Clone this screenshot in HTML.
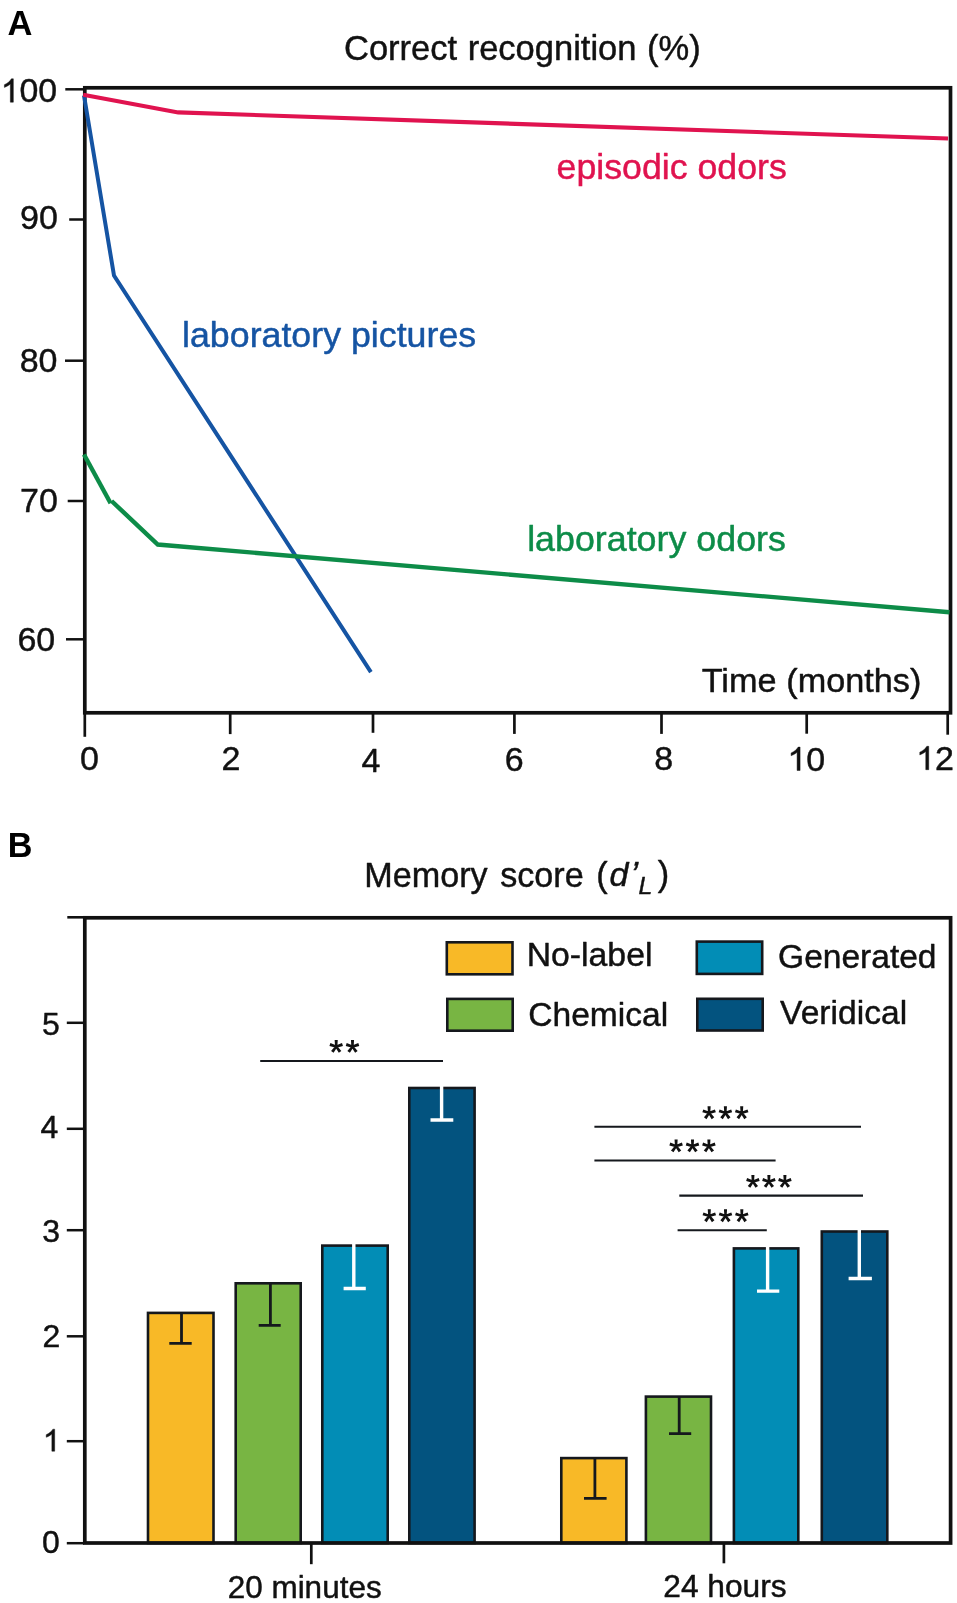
<!DOCTYPE html>
<html><head><meta charset="utf-8"><title>Figure</title>
<style>html,body{margin:0;padding:0;background:#fff}svg{display:block}text{font-family:"Liberation Sans",sans-serif}</style></head>
<body>
<div style="width:957px;height:1603px;will-change:transform">
<svg width="957" height="1603" viewBox="0 0 957 1603">
<rect x="0" y="0" width="957" height="1603" fill="#ffffff"/>
<!-- Panel A -->
<rect x="84.8" y="87.8" width="865.7" height="625.0" fill="none" stroke="#111111" stroke-width="3.7"/>
<polyline points="84.0,95.5 114,275.5 370.9,672.2" fill="none" stroke="#1554a3" stroke-width="4.0" stroke-linejoin="miter"/>
<polyline points="83.2,94.7 178.2,112.4 948.0,138.5" fill="none" stroke="#e0134f" stroke-width="4.1" stroke-linejoin="miter"/>
<polyline points="84.0,454.5 110.6,503.3" fill="none" stroke="#0d8c48" stroke-width="4.4"/>
<polyline points="111.6,501 157.8,544.5 949.5,612.2" fill="none" stroke="#0d8c48" stroke-width="4.4" stroke-linejoin="miter"/>
<line x1="65.3" y1="89.3" x2="84" y2="89.3" stroke="#111111" stroke-width="2.5"/>
<line x1="69.2" y1="219.5" x2="84" y2="219.5" stroke="#111111" stroke-width="2.5"/>
<line x1="65.0" y1="360.7" x2="84" y2="360.7" stroke="#111111" stroke-width="2.5"/>
<line x1="67.7" y1="501.0" x2="84" y2="501.0" stroke="#111111" stroke-width="2.5"/>
<line x1="66.0" y1="639.3" x2="84" y2="639.3" stroke="#111111" stroke-width="2.5"/>
<line x1="84.8" y1="713" x2="84.8" y2="736.8" stroke="#111111" stroke-width="2.7"/>
<line x1="230.2" y1="713" x2="230.2" y2="734.1" stroke="#111111" stroke-width="2.7"/>
<line x1="373.0" y1="713" x2="373.0" y2="732.8" stroke="#111111" stroke-width="2.7"/>
<line x1="514.4" y1="713" x2="514.4" y2="733.9" stroke="#111111" stroke-width="2.7"/>
<line x1="661.5" y1="713" x2="661.5" y2="733.9" stroke="#111111" stroke-width="2.7"/>
<line x1="806.7" y1="713" x2="806.7" y2="733.7" stroke="#111111" stroke-width="2.7"/>
<line x1="947.7" y1="713" x2="947.7" y2="734.7" stroke="#111111" stroke-width="2.7"/>
<!-- Panel B -->
<rect x="148.00" y="1312.90" width="65.50" height="230.10" fill="#f8b927" stroke="#15181d" stroke-width="2.6"/>
<rect x="235.70" y="1283.30" width="65.00" height="259.70" fill="#78b543" stroke="#15181d" stroke-width="2.6"/>
<rect x="322.30" y="1245.60" width="65.40" height="297.40" fill="#028db6" stroke="#15181d" stroke-width="2.6"/>
<rect x="409.30" y="1088.00" width="65.30" height="455.00" fill="#03537f" stroke="#15181d" stroke-width="2.6"/>
<rect x="561.30" y="1458.10" width="65.10" height="84.90" fill="#f8b927" stroke="#15181d" stroke-width="2.6"/>
<rect x="645.90" y="1396.60" width="65.10" height="146.40" fill="#78b543" stroke="#15181d" stroke-width="2.6"/>
<rect x="733.90" y="1248.40" width="64.40" height="294.60" fill="#028db6" stroke="#15181d" stroke-width="2.6"/>
<rect x="821.80" y="1231.50" width="65.50" height="311.50" fill="#03537f" stroke="#15181d" stroke-width="2.6"/>
<path d="M181.5 1312.5 V1343.3 M169.3 1343.3 H191.7" fill="none" stroke="#15181d" stroke-width="2.8"/>
<path d="M270.4 1283.0 V1325.3 M258.7 1325.3 H280.7" fill="none" stroke="#15181d" stroke-width="2.8"/>
<path d="M353.8 1243.7 V1288.5 M343.6 1288.5 H365.8" fill="none" stroke="#fff" stroke-width="3.4"/>
<path d="M441.6 1086.1000000000001 V1120.0 M430.5 1120.0 H453.3" fill="none" stroke="#fff" stroke-width="3.4"/>
<path d="M594.9 1457.8 V1498.4 M584.0 1498.4 H606.6" fill="none" stroke="#15181d" stroke-width="2.8"/>
<path d="M679.2 1396.3 V1433.6 M669.0 1433.6 H691.2" fill="none" stroke="#15181d" stroke-width="2.8"/>
<path d="M767.6 1246.5 V1291.1 M757.0 1291.1 H779.3" fill="none" stroke="#fff" stroke-width="3.4"/>
<path d="M859.3 1229.7 V1278.5 M848.6 1278.5 H871.9" fill="none" stroke="#fff" stroke-width="3.4"/>
<rect x="84.8" y="917.8" width="865.8" height="625.2" fill="none" stroke="#111111" stroke-width="3.7"/>
<line x1="67.3" y1="917.3" x2="84" y2="917.3" stroke="#111111" stroke-width="2.6"/>
<line x1="66.8" y1="1022.8" x2="84" y2="1022.8" stroke="#111111" stroke-width="2.5"/>
<line x1="66.8" y1="1128.8" x2="84" y2="1128.8" stroke="#111111" stroke-width="2.5"/>
<line x1="66.8" y1="1230.2" x2="84" y2="1230.2" stroke="#111111" stroke-width="2.5"/>
<line x1="66.8" y1="1336.3" x2="84" y2="1336.3" stroke="#111111" stroke-width="2.5"/>
<line x1="66.8" y1="1441.2" x2="84" y2="1441.2" stroke="#111111" stroke-width="2.5"/>
<line x1="66.8" y1="1543.2" x2="84" y2="1543.2" stroke="#111111" stroke-width="2.5"/>
<line x1="311.3" y1="1544" x2="311.3" y2="1564.2" stroke="#111111" stroke-width="2.7"/>
<line x1="723.9" y1="1544" x2="723.9" y2="1563.3" stroke="#111111" stroke-width="2.7"/>
<line x1="260.2" y1="1061.0" x2="443.0" y2="1061.0" stroke="#15181d" stroke-width="2.1"/>
<line x1="594.4" y1="1126.7" x2="861.0" y2="1126.7" stroke="#15181d" stroke-width="2.1"/>
<line x1="594.4" y1="1160.5" x2="775.6" y2="1160.5" stroke="#15181d" stroke-width="2.1"/>
<line x1="679.3" y1="1195.6" x2="863.0" y2="1195.6" stroke="#15181d" stroke-width="2.1"/>
<line x1="677.6" y1="1230.3" x2="766.8" y2="1230.3" stroke="#15181d" stroke-width="2.1"/>
<path d="M337.35 1046.60 L337.75 1040.00 L334.65 1040.00 L335.05 1046.60Z M336.56 1047.69 L342.96 1046.03 L342.00 1043.09 L335.84 1045.51Z M335.27 1047.28 L338.83 1052.85 L341.33 1051.03 L337.13 1045.92Z M335.27 1045.92 L331.07 1051.03 L333.57 1052.85 L337.13 1047.28Z M336.56 1045.51 L330.40 1043.09 L329.44 1046.03 L335.84 1047.69Z M353.65 1046.60 L354.05 1040.00 L350.95 1040.00 L351.35 1046.60Z M352.86 1047.69 L359.26 1046.03 L358.30 1043.09 L352.14 1045.51Z M351.57 1047.28 L355.13 1052.85 L357.63 1051.03 L353.43 1045.92Z M351.57 1045.92 L347.37 1051.03 L349.87 1052.85 L353.43 1047.28Z M352.86 1045.51 L346.70 1043.09 L345.74 1046.03 L352.14 1047.69Z M710.25 1112.90 L710.65 1106.30 L707.55 1106.30 L707.95 1112.90Z M709.46 1113.99 L715.86 1112.33 L714.90 1109.39 L708.74 1111.81Z M708.17 1113.58 L711.73 1119.15 L714.23 1117.33 L710.03 1112.22Z M708.17 1112.22 L703.97 1117.33 L706.47 1119.15 L710.03 1113.58Z M709.46 1111.81 L703.30 1109.39 L702.34 1112.33 L708.74 1113.99Z M726.55 1112.90 L726.95 1106.30 L723.85 1106.30 L724.25 1112.90Z M725.76 1113.99 L732.16 1112.33 L731.20 1109.39 L725.04 1111.81Z M724.47 1113.58 L728.03 1119.15 L730.53 1117.33 L726.33 1112.22Z M724.47 1112.22 L720.27 1117.33 L722.77 1119.15 L726.33 1113.58Z M725.76 1111.81 L719.60 1109.39 L718.64 1112.33 L725.04 1113.99Z M742.85 1112.90 L743.25 1106.30 L740.15 1106.30 L740.55 1112.90Z M742.06 1113.99 L748.46 1112.33 L747.50 1109.39 L741.34 1111.81Z M740.77 1113.58 L744.33 1119.15 L746.83 1117.33 L742.63 1112.22Z M740.77 1112.22 L736.57 1117.33 L739.07 1119.15 L742.63 1113.58Z M742.06 1111.81 L735.90 1109.39 L734.94 1112.33 L741.34 1113.99Z M677.25 1146.10 L677.65 1139.50 L674.55 1139.50 L674.95 1146.10Z M676.46 1147.19 L682.86 1145.53 L681.90 1142.59 L675.74 1145.01Z M675.17 1146.78 L678.73 1152.35 L681.23 1150.53 L677.03 1145.42Z M675.17 1145.42 L670.97 1150.53 L673.47 1152.35 L677.03 1146.78Z M676.46 1145.01 L670.30 1142.59 L669.34 1145.53 L675.74 1147.19Z M693.65 1146.10 L694.05 1139.50 L690.95 1139.50 L691.35 1146.10Z M692.86 1147.19 L699.26 1145.53 L698.30 1142.59 L692.14 1145.01Z M691.57 1146.78 L695.13 1152.35 L697.63 1150.53 L693.43 1145.42Z M691.57 1145.42 L687.37 1150.53 L689.87 1152.35 L693.43 1146.78Z M692.86 1145.01 L686.70 1142.59 L685.74 1145.53 L692.14 1147.19Z M710.05 1146.10 L710.45 1139.50 L707.35 1139.50 L707.75 1146.10Z M709.26 1147.19 L715.66 1145.53 L714.70 1142.59 L708.54 1145.01Z M707.97 1146.78 L711.53 1152.35 L714.03 1150.53 L709.83 1145.42Z M707.97 1145.42 L703.77 1150.53 L706.27 1152.35 L709.83 1146.78Z M709.26 1145.01 L703.10 1142.59 L702.14 1145.53 L708.54 1147.19Z M754.05 1181.60 L754.45 1175.00 L751.35 1175.00 L751.75 1181.60Z M753.26 1182.69 L759.66 1181.03 L758.70 1178.09 L752.54 1180.51Z M751.97 1182.28 L755.53 1187.85 L758.03 1186.03 L753.83 1180.92Z M751.97 1180.92 L747.77 1186.03 L750.27 1187.85 L753.83 1182.28Z M753.26 1180.51 L747.10 1178.09 L746.14 1181.03 L752.54 1182.69Z M770.05 1181.60 L770.45 1175.00 L767.35 1175.00 L767.75 1181.60Z M769.26 1182.69 L775.66 1181.03 L774.70 1178.09 L768.54 1180.51Z M767.97 1182.28 L771.53 1187.85 L774.03 1186.03 L769.83 1180.92Z M767.97 1180.92 L763.77 1186.03 L766.27 1187.85 L769.83 1182.28Z M769.26 1180.51 L763.10 1178.09 L762.14 1181.03 L768.54 1182.69Z M786.05 1181.60 L786.45 1175.00 L783.35 1175.00 L783.75 1181.60Z M785.26 1182.69 L791.66 1181.03 L790.70 1178.09 L784.54 1180.51Z M783.97 1182.28 L787.53 1187.85 L790.03 1186.03 L785.83 1180.92Z M783.97 1180.92 L779.77 1186.03 L782.27 1187.85 L785.83 1182.28Z M785.26 1180.51 L779.10 1178.09 L778.14 1181.03 L784.54 1182.69Z M710.45 1215.90 L710.85 1209.30 L707.75 1209.30 L708.15 1215.90Z M709.66 1216.99 L716.06 1215.33 L715.10 1212.39 L708.94 1214.81Z M708.37 1216.58 L711.93 1222.15 L714.43 1220.33 L710.23 1215.22Z M708.37 1215.22 L704.17 1220.33 L706.67 1222.15 L710.23 1216.58Z M709.66 1214.81 L703.50 1212.39 L702.54 1215.33 L708.94 1216.99Z M726.65 1215.90 L727.05 1209.30 L723.95 1209.30 L724.35 1215.90Z M725.86 1216.99 L732.26 1215.33 L731.30 1212.39 L725.14 1214.81Z M724.57 1216.58 L728.13 1222.15 L730.63 1220.33 L726.43 1215.22Z M724.57 1215.22 L720.37 1220.33 L722.87 1222.15 L726.43 1216.58Z M725.86 1214.81 L719.70 1212.39 L718.74 1215.33 L725.14 1216.99Z M742.95 1215.90 L743.35 1209.30 L740.25 1209.30 L740.65 1215.90Z M742.16 1216.99 L748.56 1215.33 L747.60 1212.39 L741.44 1214.81Z M740.87 1216.58 L744.43 1222.15 L746.93 1220.33 L742.73 1215.22Z M740.87 1215.22 L736.67 1220.33 L739.17 1222.15 L742.73 1216.58Z M742.16 1214.81 L736.00 1212.39 L735.04 1215.33 L741.44 1216.99Z" fill="#111111"/>
<rect x="446.80" y="942.30" width="65.70" height="32.00" fill="#f8b927" stroke="#15181d" stroke-width="2.6"/>
<rect x="447.30" y="998.90" width="65.40" height="31.80" fill="#78b543" stroke="#15181d" stroke-width="2.6"/>
<rect x="696.80" y="941.60" width="65.40" height="32.30" fill="#028db6" stroke="#15181d" stroke-width="2.6"/>
<rect x="697.30" y="998.80" width="65.40" height="31.70" fill="#03537f" stroke="#15181d" stroke-width="2.6"/>
<!-- Text -->
<g style="filter:opacity(1)">
<g transform="translate(7.40 34.70)"><text x="0" y="0" font-size="34.5" fill="#000" font-weight="bold">A</text></g>
<g transform="translate(344.00 59.50) scale(1.0001 1.0000)"><text x="0" y="0" font-size="34.5" fill="#111111" stroke="#111111" stroke-width="0.45" stroke-linejoin="round" word-spacing="1.0">Correct recognition (%)</text></g>
<g transform="translate(556.60 179.20) scale(1.0378 1.0000)"><text x="0" y="0" font-size="34.4" fill="#e0134f" stroke="#e0134f" stroke-width="0.45" stroke-linejoin="round">episodic odors</text></g>
<g transform="translate(182.03 346.80) scale(1.0369 1.0000)"><text x="0" y="0" font-size="34.5" fill="#1554a3" stroke="#1554a3" stroke-width="0.45" stroke-linejoin="round">laboratory pictures</text></g>
<g transform="translate(527.14 551.10) scale(1.0323 1.0000)"><text x="0" y="0" font-size="34.7" fill="#0d8c48" stroke="#0d8c48" stroke-width="0.45" stroke-linejoin="round">laboratory odors</text></g>
<g transform="translate(701.69 691.60) scale(1.0195 1.0000)"><text x="0" y="0" font-size="33.6" fill="#111111" stroke="#111111" stroke-width="0.45" stroke-linejoin="round" word-spacing="0.3">Time (months)</text></g>
<g transform="translate(0.71 102.20) scale(0.9962 1.0000)"><path transform="translate(0.000 0) scale(0.016602 -0.015891)" d="M763 0H583V1147Q518 1085 412.5 1023Q307 961 223 930V1104Q374 1175 487 1276Q600 1377 647 1472H763Z" fill="#111111" stroke="#111111" stroke-width="27.1"/><text x="18.909" y="0" font-size="34" fill="#111111" stroke="#111111" stroke-width="0.45" stroke-linejoin="round">00</text></g>
<g transform="translate(20.00 228.90)"><text x="0" y="0" font-size="34" fill="#111111" stroke="#111111" stroke-width="0.45" stroke-linejoin="round">90</text></g>
<g transform="translate(19.70 372.20)"><text x="0" y="0" font-size="34" fill="#111111" stroke="#111111" stroke-width="0.45" stroke-linejoin="round">80</text></g>
<g transform="translate(20.08 512.30)"><text x="0" y="0" font-size="34" fill="#111111" stroke="#111111" stroke-width="0.45" stroke-linejoin="round">70</text></g>
<g transform="translate(17.38 650.80)"><text x="0" y="0" font-size="34" fill="#111111" stroke="#111111" stroke-width="0.45" stroke-linejoin="round">60</text></g>
<g transform="translate(80.08 770.00)"><text x="0" y="0" font-size="34" fill="#111111" stroke="#111111" stroke-width="0.45" stroke-linejoin="round">0</text></g>
<g transform="translate(221.60 770.30)"><text x="0" y="0" font-size="34" fill="#111111" stroke="#111111" stroke-width="0.45" stroke-linejoin="round">2</text></g>
<g transform="translate(361.62 772.00)"><text x="0" y="0" font-size="34" fill="#111111" stroke="#111111" stroke-width="0.45" stroke-linejoin="round">4</text></g>
<g transform="translate(504.77 770.50)"><text x="0" y="0" font-size="34" fill="#111111" stroke="#111111" stroke-width="0.45" stroke-linejoin="round">6</text></g>
<g transform="translate(654.25 770.00)"><text x="0" y="0" font-size="34" fill="#111111" stroke="#111111" stroke-width="0.45" stroke-linejoin="round">8</text></g>
<g transform="translate(787.42 770.50)"><path transform="translate(0.000 0) scale(0.016602 -0.015891)" d="M763 0H583V1147Q518 1085 412.5 1023Q307 961 223 930V1104Q374 1175 487 1276Q600 1377 647 1472H763Z" fill="#111111" stroke="#111111" stroke-width="27.1"/><text x="18.909" y="0" font-size="34" fill="#111111" stroke="#111111" stroke-width="0.45" stroke-linejoin="round">0</text></g>
<g transform="translate(916.08 769.70)"><path transform="translate(0.000 0) scale(0.016602 -0.015891)" d="M763 0H583V1147Q518 1085 412.5 1023Q307 961 223 930V1104Q374 1175 487 1276Q600 1377 647 1472H763Z" fill="#111111" stroke="#111111" stroke-width="27.1"/><text x="18.909" y="0" font-size="34" fill="#111111" stroke="#111111" stroke-width="0.45" stroke-linejoin="round">2</text></g>
<g transform="translate(7.70 857.00)"><text x="0" y="0" font-size="34.2" fill="#000" font-weight="bold">B</text></g>
<g transform="translate(364.24 886.60) scale(0.9853 1.0000)"><text x="0" y="0" font-size="34.7" fill="#111111" stroke="#111111" stroke-width="0.45" stroke-linejoin="round" word-spacing="3.0">Memory score (</text></g>
<g transform="translate(609.40 886.40)"><text x="0" y="0" font-size="34.0" fill="#111111" stroke="#111111" stroke-width="0.45" stroke-linejoin="round" font-style="italic">d</text></g>
<g transform="translate(630.38 886.40)"><text x="0" y="0" font-size="34.3" fill="#111111" stroke="#111111" stroke-width="0.45" stroke-linejoin="round" font-style="italic">’</text></g>
<g transform="translate(638.48 894.10)"><text x="0" y="0" font-size="24.8" fill="#111111" stroke="#111111" stroke-width="0.45" stroke-linejoin="round" font-style="italic">L</text></g>
<g transform="translate(657.75 886.40)"><text x="0" y="0" font-size="34.3" fill="#111111" stroke="#111111" stroke-width="0.45" stroke-linejoin="round">)</text></g>
<g transform="translate(41.97 1035.20)"><text x="0" y="0" font-size="32" fill="#111111" stroke="#111111" stroke-width="0.45" stroke-linejoin="round">5</text></g>
<g transform="translate(40.60 1138.40)"><text x="0" y="0" font-size="32" fill="#111111" stroke="#111111" stroke-width="0.45" stroke-linejoin="round">4</text></g>
<g transform="translate(42.20 1242.40)"><text x="0" y="0" font-size="32" fill="#111111" stroke="#111111" stroke-width="0.45" stroke-linejoin="round">3</text></g>
<g transform="translate(42.55 1346.60)"><text x="0" y="0" font-size="32" fill="#111111" stroke="#111111" stroke-width="0.45" stroke-linejoin="round">2</text></g>
<g transform="translate(42.75 1451.20)"><path transform="translate(0.000 0) scale(0.015625 -0.014956)" d="M763 0H583V1147Q518 1085 412.5 1023Q307 961 223 930V1104Q374 1175 487 1276Q600 1377 647 1472H763Z" fill="#111111" stroke="#111111" stroke-width="28.8"/></g>
<g transform="translate(42.02 1553.00)"><text x="0" y="0" font-size="32" fill="#111111" stroke="#111111" stroke-width="0.45" stroke-linejoin="round">0</text></g>
<g transform="translate(526.67 966.10) scale(1.0113 1.0000)"><text x="0" y="0" font-size="33.4" fill="#111111" stroke="#111111" stroke-width="0.45" stroke-linejoin="round">No-label</text></g>
<g transform="translate(528.19 1025.70) scale(1.0063 1.0000)"><text x="0" y="0" font-size="33.4" fill="#111111" stroke="#111111" stroke-width="0.45" stroke-linejoin="round">Chemical</text></g>
<g transform="translate(778.09 967.70) scale(1.0039 1.0000)"><text x="0" y="0" font-size="33.4" fill="#111111" stroke="#111111" stroke-width="0.45" stroke-linejoin="round">Generated</text></g>
<g transform="translate(780.10 1023.80) scale(1.0060 1.0000)"><text x="0" y="0" font-size="33.4" fill="#111111" stroke="#111111" stroke-width="0.45" stroke-linejoin="round">Veridical</text></g>
<g transform="translate(227.66 1597.50) scale(0.9905 1.0000)"><text x="0" y="0" font-size="31.8" fill="#111111" stroke="#111111" stroke-width="0.45" stroke-linejoin="round">20 minutes</text></g>
<g transform="translate(663.25 1597.40) scale(0.9975 1.0000)"><text x="0" y="0" font-size="31.8" fill="#111111" stroke="#111111" stroke-width="0.45" stroke-linejoin="round">24 hours</text></g>
</g>
</svg>
</div>
</body></html>
